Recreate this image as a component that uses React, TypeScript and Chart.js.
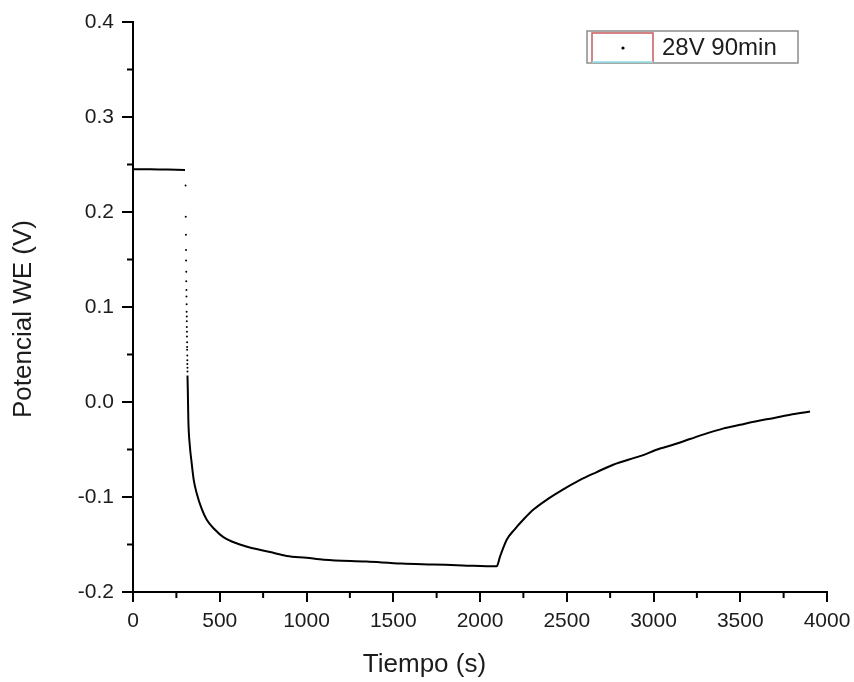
import React, { useEffect, useRef } from "react";
import { Chart, registerables } from "chart.js";

Chart.register(...registerables);

const seriesLabel = "28V 90min";
const xTitle = "Tiempo (s)";
const yTitle = "Potencial WE (V)";

// open-circuit plateau before the step
const plateauTime = [0, 50, 100, 150, 200, 250, 300];
const plateauV = [0.245, 0.245, 0.2449, 0.2448, 0.2447, 0.2445, 0.2443];

// sparse points of the fast drop
const dropTime = [303, 304, 305, 306, 306, 307, 307, 308, 308, 309, 309, 310, 310, 310, 311, 311, 312, 312, 312, 313, 313, 313, 314, 314];
const dropV = [0.228, 0.195, 0.176, 0.16, 0.149, 0.137, 0.127, 0.118, 0.111, 0.103, 0.095, 0.09, 0.085, 0.079, 0.074, 0.069, 0.063, 0.058, 0.055, 0.049, 0.044, 0.04, 0.036, 0.032];

// decay and recovery
const curveTime = [314, 316, 319, 327, 338, 350, 367, 395, 425, 470, 519, 600, 692, 790, 886, 1000, 1100, 1347, 1550, 1729, 1900, 2096, 2115, 2154, 2200, 2249, 2310, 2384, 2480, 2577, 2670, 2768, 2922, 3038, 3113, 3210, 3307, 3400, 3499, 3600, 3689, 3800, 3902];
const curveV = [0.028, 0.012, -0.019, -0.045, -0.064, -0.082, -0.096, -0.112, -0.124, -0.134, -0.142, -0.149, -0.154, -0.158, -0.162, -0.164, -0.166, -0.168, -0.17, -0.171, -0.172, -0.173, -0.163, -0.145, -0.134, -0.124, -0.113, -0.103, -0.092, -0.082, -0.074, -0.066, -0.057, -0.049, -0.045, -0.039, -0.033, -0.028, -0.024, -0.02, -0.017, -0.013, -0.01];

const xMajorTicks = [0, 500, 1000, 1500, 2000, 2500, 3000, 3500, 4000];
const yMajorTicks = [-0.2, -0.1, 0.0, 0.1, 0.2, 0.3, 0.4];

const toPts = (xs: number[], ys: number[]) => xs.map((x, i) => ({ x, y: ys[i] }));

const FONT = "'Liberation Sans', Arial, sans-serif";
const TEXT = "#1c1c1c";

const decorPlugin = {
  id: "decor",
  afterDraw(chart: any) {
    const ctx = chart.ctx as CanvasRenderingContext2D;
    const xs = chart.scales.x;
    const ys = chart.scales.y;
    const area = chart.chartArea;
    ctx.save();
    ctx.strokeStyle = "#000";
    ctx.lineWidth = 2;
    // minor ticks
    for (let i = 0; i < xMajorTicks.length - 1; i++) {
      const v = (xMajorTicks[i] + xMajorTicks[i + 1]) / 2;
      const px = xs.getPixelForValue(v);
      ctx.beginPath();
      ctx.moveTo(px, area.bottom);
      ctx.lineTo(px, area.bottom + 6);
      ctx.stroke();
    }
    for (let i = 0; i < yMajorTicks.length - 1; i++) {
      const v = (yMajorTicks[i] + yMajorTicks[i + 1]) / 2;
      const py = ys.getPixelForValue(v);
      ctx.beginPath();
      ctx.moveTo(area.left, py);
      ctx.lineTo(area.left - 6, py);
      ctx.stroke();
    }
    // axis titles
    ctx.fillStyle = TEXT;
    ctx.font = `26px ${FONT}`;
    ctx.textAlign = "center";
    ctx.textBaseline = "middle";
    ctx.fillText(xTitle, area.left + (area.right - area.left) * 0.42, 665);
    ctx.save();
    ctx.translate(24, (area.top + area.bottom) / 2 + 12);
    ctx.rotate(-Math.PI / 2);
    ctx.fillText(yTitle, 0, 0);
    ctx.restore();

    // legend box
    const lx = area.right - 240;
    const ly = area.top + 9;
    const lw = 211;
    const lh = 32;
    ctx.strokeStyle = "#8c8c8c";
    ctx.lineWidth = 1.5;
    ctx.strokeRect(lx, ly, lw, lh);
    // sample box
    const sx = lx + 5;
    const sy = ly + 2;
    const sw = 61;
    const sh = 29;
    ctx.lineWidth = 1.5;
    ctx.strokeStyle = "#c85a5a";
    ctx.beginPath();
    ctx.moveTo(sx, sy + sh);
    ctx.lineTo(sx, sy);
    ctx.lineTo(sx + sw, sy);
    ctx.lineTo(sx + sw, sy + sh);
    ctx.stroke();
    ctx.strokeStyle = "#8ee3ea";
    ctx.beginPath();
    ctx.moveTo(sx, sy + sh);
    ctx.lineTo(sx + sw, sy + sh);
    ctx.stroke();
    ctx.fillStyle = "#000";
    ctx.beginPath();
    ctx.arc(sx + 31, sy + 15, 1.6, 0, Math.PI * 2);
    ctx.fill();
    ctx.fillStyle = TEXT;
    ctx.font = `24px ${FONT}`;
    ctx.textAlign = "left";
    ctx.textBaseline = "middle";
    ctx.fillText(seriesLabel, sx + sw + 9, ly + lh / 2 + 1);
    ctx.restore();
  },
};

export default function App() {
  const ref = useRef<HTMLCanvasElement | null>(null);
  useEffect(() => {
    if (!ref.current) return;
    const chart = new Chart(ref.current, {
      type: "scatter",
      data: {
        datasets: [
          {
            label: seriesLabel,
            data: toPts(plateauTime, plateauV),
            showLine: true,
            borderColor: "#000",
            borderWidth: 2,
            pointRadius: 0,
          },
          {
            label: seriesLabel,
            data: toPts(dropTime, dropV),
            showLine: false,
            backgroundColor: "#000",
            borderColor: "#000",
            pointRadius: 1,
            borderWidth: 0,
          },
          {
            label: seriesLabel,
            data: toPts(curveTime, curveV),
            showLine: true,
            borderColor: "#000",
            borderWidth: 2,
            pointRadius: 0,
            cubicInterpolationMode: "monotone",
          },
        ],
      },
      options: {
        responsive: false,
        animation: false,
        layout: { padding: { top: 22, right: 27, left: 0, bottom: 0 } },
        plugins: { legend: { display: false }, tooltip: { enabled: false } },
        scales: {
          x: {
            type: "linear",
            min: 0,
            max: 4000,
            afterBuildTicks: (s: any) => {
              s.ticks = xMajorTicks.map((v) => ({ value: v }));
            },
            ticks: {
              font: { family: FONT, size: 21 },
              color: TEXT,
              padding: 7,
              maxRotation: 0,
              callback: (v: any) => String(v),
            },
            grid: { drawOnChartArea: false, drawTicks: true, tickLength: 10, color: "#000", lineWidth: 2 },
            border: { display: true, color: "#000", width: 2 },
            afterFit: (s: any) => {
              s.height = 90;
              s.paddingLeft = 0;
              s.paddingRight = 0;
            },
          },
          y: {
            type: "linear",
            min: -0.2,
            max: 0.4,
            afterBuildTicks: (s: any) => {
              s.ticks = yMajorTicks.map((v) => ({ value: v }));
            },
            ticks: {
              font: { family: FONT, size: 21 },
              color: TEXT,
              padding: 8,
              callback: (v: any) => Number(v).toFixed(1),
            },
            grid: { drawOnChartArea: false, drawTicks: true, tickLength: 11, color: "#000", lineWidth: 2 },
            border: { display: true, color: "#000", width: 2 },
            afterFit: (s: any) => {
              s.width = 133;
              s.paddingTop = 0;
              s.paddingBottom = 0;
            },
          },
        },
      },
      plugins: [decorPlugin],
    });
    return () => chart.destroy();
  }, []);
  return (
    <div style={{ position: "fixed", left: 0, top: 0, width: 854, height: 682, background: "#fff" }}>
      <canvas ref={ref} width={854} height={682} />
    </div>
  );
}
